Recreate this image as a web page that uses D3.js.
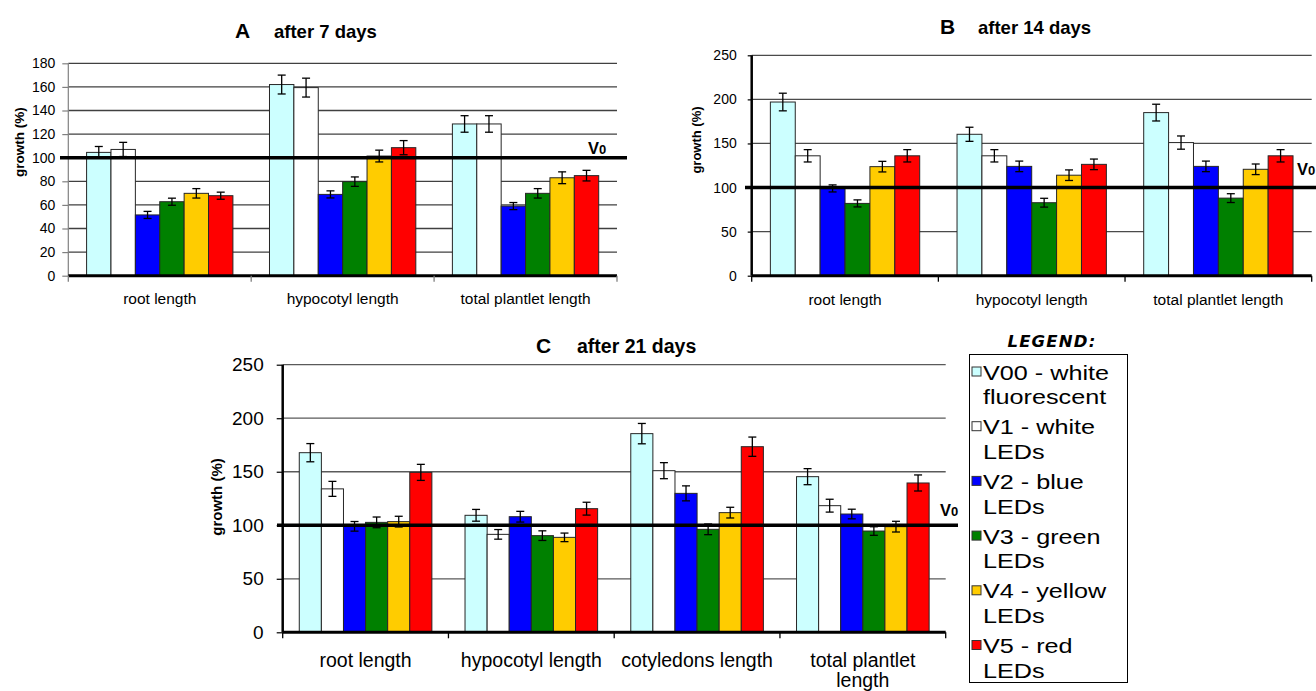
<!DOCTYPE html>
<html>
<head>
<meta charset="utf-8">
<script src="https://cdn.jsdelivr.net/npm/d3@7"></script>
<style>
  body { margin: 0; background: #fff; }
  svg { display: block; font-family: "Liberation Sans", Arial, sans-serif; }
</style>
</head>
<body>
<svg id="chart" width="1316" height="691"></svg>
<script>
"use strict";

// series (light sources)
var seriesKeys = ["V00", "V1", "V2", "V3", "V4", "V5"];
var seriesColors = ["#ccffff", "#ffffff", "#0000ff", "#008000", "#ffcc00", "#ff0000"];
var legendLines = [
  ["V00 - white", "fluorescent"],
  ["V1 - white", "LEDs"],
  ["V2 - blue", "LEDs"],
  ["V3 - green", "LEDs"],
  ["V4 - yellow", "LEDs"],
  ["V5 - red", "LEDs"]
];

// A - after 7 days
var categoriesA = ["root length", "hypocotyl length", "total plantlet length"];
var valuesA = [
  [104.5, 107, 51.5, 62.7, 69.8, 67.8],
  [162, 159.4, 68.9, 79.7, 101.4, 108.5],
  [128.6, 128.6, 59, 69.8, 83, 84.8]
];
var errorsA = [
  [5, 6, 3, 3, 4, 3],
  [8, 8, 3, 4, 5, 6],
  [7, 7, 3, 4, 5, 4.5]
];
var ticksA = [0, 20, 40, 60, 80, 100, 120, 140, 160, 180];

// B - after 14 days
var categoriesB = ["root length", "hypocotyl length", "total plantlet length"];
var valuesB = [
  [197, 136, 99, 82, 123.7, 136],
  [160.4, 136, 124, 82.8, 114, 126.3],
  [185, 151, 124, 88, 120.7, 136]
];
var errorsB = [
  [10, 7, 4, 4, 6, 7],
  [8, 7, 6, 5, 6, 6],
  [9.5, 7.5, 6, 5, 6, 7]
];
var ticksB = [0, 50, 100, 150, 200, 250];

// C - after 21 days
var categoriesC = ["root length", "hypocotyl length", "cotyledons length", "total plantlet length"];
var valuesC = [
  [167.8, 134, 99, 102.7, 103.4, 149.4],
  [109.3, 91.5, 108, 90.3, 88.7, 115.5],
  [185.6, 151, 129.8, 96.2, 111.8, 173.4],
  [145.4, 118.3, 110.5, 94.6, 98.7, 139.5]
];
var errorsC = [
  [8.5, 7, 4.5, 5, 5, 7.5],
  [5.5, 4.5, 5, 4.5, 4, 6],
  [9.5, 7.5, 7, 5, 5, 9],
  [7.5, 6, 4.5, 4, 5, 7.5]
];
var ticksC = [0, 50, 100, 150, 200, 250];

var controlLevel = 100;

var svg = d3.select("#chart");
svg.append("rect").attr("width", 1316).attr("height", 691).attr("fill", "#fff");

function drawPanel(p) {
  var g = svg.append("g");

  var y = d3.scaleLinear().domain([0, d3.max(p.ticks)]).range([p.bottom, p.top]);
  var x = d3.scaleBand().domain(p.categories).range([p.left, p.right]);
  var xs = d3.scaleBand().domain(seriesKeys).range([0, x.bandwidth()]).paddingOuter(0.75);

  // gridlines
  g.selectAll(".grid")
    .data(p.ticks.filter(function(t) { return t > 0; }))
    .enter().append("line")
      .attr("x1", p.left).attr("x2", p.right)
      .attr("y1", function(d) { return y(d); })
      .attr("y2", function(d) { return y(d); })
      .attr("stroke", p.gridColor)
      .attr("stroke-width", 1.3);

  // bars
  var groups = g.selectAll(".cat")
    .data(p.values)
    .enter().append("g")
      .attr("transform", function(d, i) { return "translate(" + x(p.categories[i]) + ",0)"; });

  groups.selectAll(".bar")
    .data(function(d, i) {
      return d.map(function(v, j) { return { key: seriesKeys[j], v: v, j: j }; });
    })
    .enter().append("rect")
      .attr("x", function(d) { return xs(d.key); })
      .attr("width", xs.bandwidth())
      .attr("y", function(d) { return y(d.v); })
      .attr("height", function(d) { return y(0) - y(d.v); })
      .attr("fill", function(d) { return seriesColors[d.j]; })
      .attr("stroke", "#262626")
      .attr("stroke-width", 1);

  // y axis
  var yAxis = g.append("g")
    .attr("transform", "translate(" + p.left + ",0)")
    .call(d3.axisLeft(y).tickValues(p.ticks).tickSize(p.tickSize).tickPadding(p.tickPad));
  yAxis.attr("font-family", null).attr("font-size", p.tickFont);
  yAxis.select(".domain").remove();
  yAxis.selectAll(".tick line").attr("stroke", p.axisColor).attr("stroke-width", 1.2);
  yAxis.selectAll(".tick text").attr("fill", "#000");

  g.append("line")
    .attr("x1", p.left).attr("x2", p.left)
    .attr("y1", y(0)).attr("y2", y(d3.max(p.ticks)))
    .attr("stroke", p.axisColor)
    .attr("stroke-width", p.yAxisWidth);

  // x axis
  g.append("line")
    .attr("x1", p.left).attr("x2", p.right)
    .attr("y1", y(0)).attr("y2", y(0))
    .attr("stroke", "#000")
    .attr("stroke-width", 3);

  var bounds = p.categories.map(function(c) { return x(c); }).concat([p.right]);
  g.selectAll(".xtick")
    .data(bounds)
    .enter().append("line")
      .attr("x1", function(d) { return d; }).attr("x2", function(d) { return d; })
      .attr("y1", y(0)).attr("y2", y(0) + 6)
      .attr("stroke", p.axisColor)
      .attr("stroke-width", 1.3);

  var labels = g.selectAll(".xlab")
    .data(p.categories)
    .enter().append("text")
      .attr("x", function(d) { return x(d) + x.bandwidth() / 2; })
      .attr("y", p.catY)
      .attr("text-anchor", "middle")
      .attr("font-size", p.catFont)
      .text(function(d) { return d; });

  // wrap labels that nearly fill their band (as Excel did)
  labels.each(function(d) {
    var t = d3.select(this);
    if (this.getComputedTextLength() > x.bandwidth() - 6) {
      var words = d.split(" ");
      var last = words.pop();
      var cx = t.attr("x");
      t.text(null);
      t.append("tspan").attr("x", cx).text(words.join(" "));
      t.append("tspan").attr("x", cx).attr("dy", p.catLine).text(last);
    }
  });

  // V0 reference line
  g.append("line")
    .attr("x1", p.v0From).attr("x2", p.v0To)
    .attr("y1", y(controlLevel)).attr("y2", y(controlLevel))
    .attr("stroke", "#000")
    .attr("stroke-width", 3.5);

  var v0 = g.append("text")
    .attr("x", p.v0LabelX)
    .attr("y", y(controlLevel) - p.v0LabelUp)
    .attr("font-weight", "bold")
    .attr("font-size", 16.5);
  v0.append("tspan").text("V");
  v0.append("tspan").attr("font-size", 13).text("0");

  // error bars
  var err = groups.selectAll(".err")
    .data(function(d, i) {
      return d.map(function(v, j) { return { key: seriesKeys[j], v: v, e: p.errors[i][j] }; });
    })
    .enter().append("g")
      .attr("transform", function(d) { return "translate(" + (xs(d.key) + xs.bandwidth() / 2) + ",0)"; })
      .attr("stroke", "#000")
      .attr("stroke-width", 1.3);
  err.append("line")
    .attr("y1", function(d) { return y(d.v + d.e); })
    .attr("y2", function(d) { return y(d.v - d.e); });
  err.append("line")
    .attr("x1", -4).attr("x2", 4)
    .attr("y1", function(d) { return y(d.v + d.e); })
    .attr("y2", function(d) { return y(d.v + d.e); });
  err.append("line")
    .attr("x1", -4).attr("x2", 4)
    .attr("y1", function(d) { return y(d.v - d.e); })
    .attr("y2", function(d) { return y(d.v - d.e); });

  // y label
  g.append("text")
    .attr("transform", "translate(" + p.yLabelX + "," + p.yLabelY + ") rotate(-90)")
    .attr("text-anchor", "middle")
    .attr("dy", "0.35em")
    .attr("font-weight", "bold")
    .attr("font-size", p.yLabelFont)
    .text("growth (%)");

  // title
  g.append("text")
    .attr("x", p.titleX).attr("y", p.titleY)
    .attr("font-weight", "bold")
    .attr("font-size", 21)
    .text(p.letter);
  g.append("text")
    .attr("x", p.subX).attr("y", p.titleY)
    .attr("font-weight", "bold")
    .attr("font-size", p.subFont)
    .text(p.subtitle);
}

drawPanel({
  letter: "A", subtitle: "after 7 days",
  categories: categoriesA, values: valuesA, errors: errorsA, ticks: ticksA,
  left: 68.3, right: 617, top: 63.3, bottom: 275.7,
  gridColor: "#404040", axisColor: "#808080", yAxisWidth: 1.2,
  tickSize: 6, tickPad: 7, tickFont: 14,
  catY: 304, catFont: 15.5, catLine: 20,
  v0From: 60, v0To: 627, v0LabelX: 588, v0LabelUp: 4,
  yLabelX: 19, yLabelY: 142, yLabelFont: 13.5,
  titleX: 235, subX: 274, titleY: 38, subFont: 18.5
});

drawPanel({
  letter: "B", subtitle: "after 14 days",
  categories: categoriesB, values: valuesB, errors: errorsB, ticks: ticksB,
  left: 751.7, right: 1311.7, top: 55.3, bottom: 275.7,
  gridColor: "#4a4a4a", axisColor: "#000", yAxisWidth: 2.5,
  tickSize: 4, tickPad: 11, tickFont: 14,
  catY: 305, catFont: 15.5, catLine: 20,
  v0From: 745, v0To: 1316, v0LabelX: 1297, v0LabelUp: 13,
  yLabelX: 696, yLabelY: 140, yLabelFont: 13,
  titleX: 940, subX: 978, titleY: 33.5, subFont: 18.5
});

drawPanel({
  letter: "C", subtitle: "after 21 days",
  categories: categoriesC, values: valuesC, errors: errorsC, ticks: ticksC,
  left: 282.7, right: 945.7, top: 364.7, bottom: 632.3,
  gridColor: "#5a5a5a", axisColor: "#000", yAxisWidth: 2.5,
  tickSize: 6, tickPad: 13, tickFont: 19,
  catY: 667, catFont: 19.5, catLine: 20,
  v0From: 277, v0To: 958, v0LabelX: 940, v0LabelUp: 9,
  yLabelX: 217, yLabelY: 497, yLabelFont: 15,
  titleX: 536, subX: 577, titleY: 353, subFont: 19.5
});

// legend
var legend = svg.append("g");
legend.append("text")
  .attr("x", 1052).attr("y", 347)
  .attr("text-anchor", "middle")
  .attr("font-family", "'DejaVu Sans', sans-serif")
  .attr("font-weight", "bold")
  .attr("font-style", "italic")
  .attr("font-size", 16.5)
  .attr("letter-spacing", 1.2)
  .text("LEGEND:");
legend.append("rect")
  .attr("x", 969.5).attr("y", 354.5)
  .attr("width", 158).attr("height", 328)
  .attr("fill", "none")
  .attr("stroke", "#000")
  .attr("stroke-width", 1);

var entries = legend.selectAll(".entry")
  .data(legendLines)
  .enter().append("g")
    .attr("transform", function(d, i) { return "translate(0," + (371.5 + 54.7 * i) + ")"; });
entries.append("rect")
  .attr("x", 972).attr("y", -4.5)
  .attr("width", 9).attr("height", 9)
  .attr("fill", function(d, i) { return seriesColors[i]; })
  .attr("stroke", "#333")
  .attr("stroke-width", 1);
entries.append("text")
  .attr("transform", "translate(983,8) scale(1.2,1)")
  .attr("font-size", 21)
  .text(function(d) { return d[0]; });
entries.append("text")
  .attr("transform", "translate(983,32.7) scale(1.2,1)")
  .attr("font-size", 21)
  .text(function(d) { return d[1]; });
</script>
</body>
</html>
